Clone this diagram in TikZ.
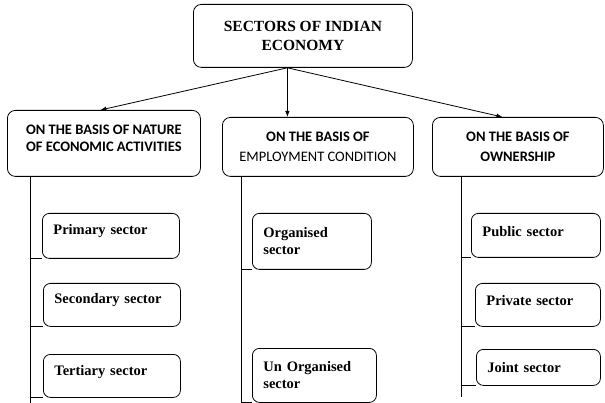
\documentclass[tikz,border=0pt]{standalone}
\usepackage{fontspec}
\setmainfont{Liberation Serif}
\newfontfamily\calib{Carlito}
\usetikzlibrary{arrows.meta,calc}
\newcommand{\liftup}[2]{\raisebox{#1}[\height][\depth]{#2}}
\begin{document}
\begin{tikzpicture}[x=1pt,y=-1pt,
  mainbox/.style={draw, rounded corners=8pt, line width=0.8pt, align=center, inner sep=0pt, anchor=north west},
  subbox/.style={draw, rounded corners=7pt, line width=0.8pt, align=left, inner xsep=11pt, inner ysep=0pt,
     font=\fontsize{14.5}{17}\selectfont\bfseries, anchor=north west},
  conn/.style={line width=0.8pt},
  arr/.style={line width=0.8pt, -{Latex[length=6pt,width=4.5pt]}},
  calfont/.style={font=\calib\fontsize{14.5}{20}\selectfont}
]
\useasboundingbox (0,0) rectangle (605,403);

% main boxes
\node[mainbox, minimum width=219pt, minimum height=63pt, font=\fontsize{15.5}{19}\selectfont\bfseries]
  (top) at (193,4) {SECTORS OF INDIAN\\ECONOMY};
\node[mainbox, minimum width=193pt, minimum height=66pt, font=\calib\fontsize{14.5}{19}\selectfont\bfseries]
  (b1) at (7,110) {\liftup{4pt}{\begin{tabular}{@{}c@{}}ON THE BASIS OF NATURE\\[-1.5pt]OF ECONOMIC ACTIVITIES\end{tabular}}};
\node[mainbox, minimum width=191pt, minimum height=59pt, calfont]
  (b2) at (222,117) {\textbf{ON THE BASIS OF}\\EMPLOYMENT CONDITION};
\node[mainbox, minimum width=171pt, minimum height=59pt, calfont]
  (b3) at (432,117) {\textbf{ON THE BASIS OF}\\\textbf{OWNERSHIP}};

% sub boxes
\node[subbox, text width=115pt, minimum height=45pt] (p1) at (42,213) {\liftup{5pt}{Primary sector}};
\node[subbox, text width=115pt, minimum height=43pt] (p2) at (43,283) {\liftup{5pt}{Secondary sector}};
\node[subbox, text width=115pt, minimum height=43pt] (p3) at (43,354) {\liftup{4pt}{Tertiary sector}};

\node[subbox, text width=97pt, minimum height=56pt] (o1) at (252,213) {Organised\\sector};
\node[subbox, text width=102pt, minimum height=54pt] (o2) at (252,348) {Un Organised\\sector};

\node[subbox, text width=107pt, minimum height=44pt] (r1) at (471,213) {\liftup{4pt}{Public sector}};
\node[subbox, text width=103pt, minimum height=43pt] (r2) at (475,283) {\liftup{4pt}{Private sector}};
\node[subbox, text width=102pt, minimum height=36pt] (r3) at (476,349) {Joint sector};

% arrows
\coordinate (src) at ([xshift=-15.5pt]top.south);
\draw[arr] (src) -- ([xshift=-3.5pt]b1.north);
\draw[arr] (src) -- (src |- b2.north);
\draw[arr] (src) -- ([xshift=-15.5pt]b3.north);

% vertical trunks
\coordinate (l1) at (30,403);
\coordinate (l2) at (241,403);
\coordinate (l3) at (461,397);
\draw[conn] (l1 |- b1.south) -- (l1);
\draw[conn] (l2 |- b2.south) -- (l2);
\draw[conn] (l3 |- b3.south) -- (l3);

% branches
\draw[conn] (l1 |- p1.south west) -- (p1.south west);
\draw[conn] (l1 |- p2.south west) -- (p2.south west);
\draw[conn] (l1 |- p3.south west) -- (p3.south west);
\draw[conn] (l2 |- o1.south west) -- (o1.south west);
\draw[conn] (l2 |- o2.south west) -- (o2.south west);
\draw[conn] (l3 |- r1.south west) -- (r1.south west);
\draw[conn] (l3 |- r2.south west) -- (r2.south west);
\draw[conn] (l3 |- r3.south west) -- (r3.south west);
\end{tikzpicture}
\end{document}
